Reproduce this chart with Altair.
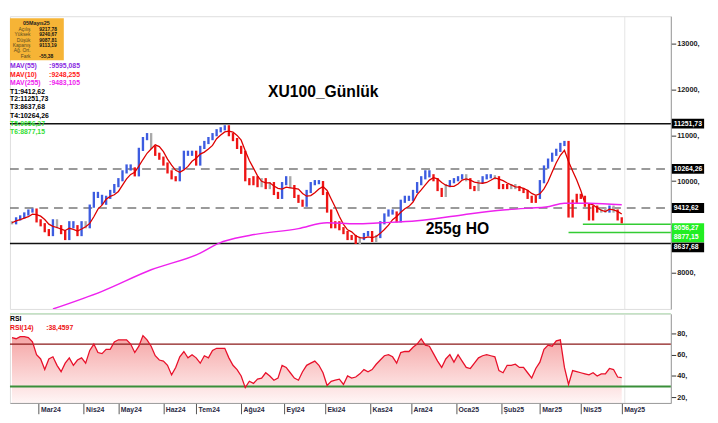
import altair as alt
import pandas as pd

# ---------------- data ----------------
# closes sampled every 2 trading days (XU100 daily)
closes = [9090, 9175, 9218, 9282, 9346, 9367, 9132, 9047, 8918, 8833,
          9132, 9004, 8876, 8747, 9090, 9004, 8833, 9090, 9004, 9453,
          9730, 9666, 9517, 9645, 9773, 9901, 10030, 10201, 10329, 10265,
          10137, 10692, 10927, 11013, 10735, 10585, 10500, 10372, 10201, 10072,
          10030, 10286, 10628, 10585, 10628, 10372, 10735, 10842, 10927, 11013,
          11098, 11141, 11184, 11013, 10906, 10735, 10628, 10030, 9944, 10072,
          9901, 10030, 9859, 9944, 9730, 9645, 9944, 10072, 9880, 9666,
          9559, 9474, 9773, 9944, 9987, 9966, 9730, 9346, 9004, 9090,
          8961, 8876, 8747, 8790, 8662, 8747, 8833, 8876, 8705, 8790,
          9090, 9260, 9346, 9303, 9132, 9559, 9645, 9602, 9773, 9944,
          10072, 10201, 10115, 10030, 9816, 9688, 9901, 9987, 10030, 10072,
          10115, 10030, 9859, 9816, 9987, 10072, 10115, 10094, 10072, 9859,
          9901, 9859, 9901, 9859, 9816, 9773, 9645, 9559, 9645, 9987,
          10307, 10457, 10585, 10671, 10799, 10842, 9239, 9559, 9688, 9645,
          9474, 9175, 9431, 9346, 9388, 9346, 9431, 9346, 9175, 9113]

rsi14 = [76, 75, 77, 77, 76, 72, 60, 56, 46, 56,
         58, 50, 44, 52, 57, 50, 55, 57, 52, 64,
         70, 62, 61, 65, 65, 72, 74, 74, 74, 70,
         62, 68, 78, 74, 68, 59, 55, 54, 50, 41,
         48, 58, 63, 57, 60, 57, 52, 59, 57, 64,
         66, 66, 66, 57, 50, 46, 40, 29, 35, 33,
         37, 38, 43, 40, 36, 38, 50, 48, 43, 38,
         36, 44, 50, 52, 54, 50, 43, 31, 35, 36,
         37, 32, 40, 38, 39, 42, 46, 44, 46, 51,
         55, 59, 60, 58, 52, 62, 63, 63, 67, 70,
         75, 69, 68, 61, 54, 48, 56, 60, 53, 60,
         54, 48, 47, 52, 57, 59, 60, 59, 58, 45,
         43, 50, 50, 51, 48, 48, 43, 38, 47, 53,
         65, 69, 68, 73, 74, 48, 32, 45, 44, 43,
         42, 41, 43, 40, 42, 42, 47, 46, 39, 38.46]

days = list(range(0, 2 * len(closes), 2))

ma255_days = [20, 44, 68, 92, 101, 116, 140, 154, 168, 180, 198, 220, 240, 253, 261, 270, 282, 298]
ma255_vals = [7209, 7594, 8064, 8427, 8641, 8812, 8962, 9090, 9068, 9090, 9132, 9261, 9368, 9410, 9432, 9517, 9517, 9483]

level_names = ["T1", "T2", "T3", "T4", "T5", "T6"]
level_values = [9412.62, 11251.73, 8637.68, 10264.26, 9056.27, 8877.15]
level_text = ["9412,62", "11251,73", "8637,68", "10264,26", "9056,27", "8877,15"]
level_from_day = [-1, -1, -1, -1, 279, 272]

month_days = [13, 35, 52, 74, 90, 112, 133, 153, 175, 195, 217, 239, 258, 278, 298]
month_labels = ["Mar24", "Nis24", "May24", "Haz24", "Tem24", "Ağu24", "Eyl24", "Eki24",
                "Kas24", "Ara24", "Oca25", "Şub25", "Mar25", "Nis25", "May25"]

price_ticks = [8000, 9000, 10000, 11000, 12000, 13000]
rsi_ticks = [20, 40, 60, 80]
rsi_levels = [70, 30]

info_header = "05Mayıs25"
info_labels = ["Açılış", "Yüksek", "Düşük", "Kapanış", "Ağ. Ort.", "Fark"]
info_values = ["9217,78", "9240,67", "9087,81", "9113,19", "", "-55,38"]

mav_names = ["MAV(55)", "MAV(10)", "MAV(255)"]
mav_values = [":9595,085", ":9248,255", ":9483,105"]

title_text = "XU100_Günlük"
note_text = "255g HO"
rsi_title = "RSI"
rsi_name = "RSI(14)"
rsi_last = ":38,4597"

# ---------------- layout / style ----------------
FONT = "Liberation Sans"
W, HP, HR = 675, 299, 91
RSI_MIN, RSI_MAX = 14.6, 98.4
xs = alt.Scale(domain=[-1, 322], nice=False, zero=False)
ys_price = alt.Scale(domain=[7209, 13598], nice=False, zero=False)
ys_rsi = alt.Scale(domain=[RSI_MIN, RSI_MAX], nice=False, zero=False)
label_dy = [0, 0, 4, 0, 4, 5]          # pixel nudges of the right-hand value boxes
box_colors = ["#000000", "#000000", "#000000", "#000000", "#22ee22", "#22ee22"]

price_df = pd.DataFrame({"day": days, "close": closes})
rsi_df = pd.DataFrame({"day": days, "rsi": rsi14})
ma255_df = pd.DataFrame({"day": ma255_days, "ma": ma255_vals})
levels_df = pd.DataFrame({"name": level_names, "value": level_values,
                          "label": level_text, "from": level_from_day})
rsi_lv_df = pd.DataFrame({"value": rsi_levels})

# the 9000 tick label sits hidden under the green value boxes in the original
price_axis = alt.Axis(orient="right", values=price_ticks,
                      labelExpr="datum.value == 9000 ? '' : datum.value + ','",
                      grid=False, domainColor="#9a9a9a", tickColor="#333", tickSize=5,
                      labelPadding=1, labelFontSize=7.5, labelFontWeight="bold",
                      labelColor="#222", labelFont=FONT)
rsi_axis = alt.Axis(orient="right", values=rsi_ticks, labelExpr="datum.value + ','",
                    grid=False, domainColor="#9a9a9a", tickColor="#333", tickSize=5,
                    labelPadding=1, labelFontSize=7.5, labelFontWeight="bold",
                    labelColor="#222", labelFont=FONT)
month_expr = " : ".join(f"datum.value == {d} ? '{l}'" for d, l in zip(month_days, month_labels)) + " : ''"
x_axis = alt.Axis(values=month_days, labelExpr=month_expr, orient="bottom", tickSize=11,
                  labelPadding=-8, labelAlign="left", labelBaseline="top", labelOffset=2,
                  labelFontSize=7, labelFontWeight="bold", labelColor="#2a2a44", labelFont=FONT,
                  domainColor="#9a9a9a", tickColor="#555", grid=False, zindex=2,
                  labelFlush=False, labelOverlap=False)


def txt(text, x, y, size=7, color="#000", weight="bold", align="left"):
    return alt.Chart(pd.DataFrame({"t": [text]})).mark_text(
        align=align, baseline="middle", fontSize=size, fontWeight=weight,
        color=color, font=FONT).encode(x=alt.value(x), y=alt.value(y), text="t:N")


def py(field):
    return alt.Y(field, scale=ys_price, axis=price_axis, title="")


# ---------------- price panel ----------------
base = alt.Chart(price_df).transform_window(
    prev="lag(close)", sort=[alt.SortField("day")]
).transform_window(
    ma="mean(close)", frame=[-4, 0], sort=[alt.SortField("day")]
).transform_calculate(
    p0="isValid(datum.prev) ? datum.prev : datum.close",
).transform_calculate(
    lo="min(datum.p0, datum.close) - 35",
    hi="max(datum.p0, datum.close) + 35",
    trend="abs(datum.close - datum.ma) < 40 ? 'flat' : (datum.close > datum.ma ? 'up' : 'down')",
)

bars = base.mark_rule(strokeWidth=2.4).encode(
    x=alt.X("day:Q", scale=xs, axis=None),
    y=py("lo:Q"), y2="hi:Q",
    color=alt.Color("trend:N", scale=alt.Scale(domain=["up", "flat", "down"],
                                               range=["#3d5ce0", "#a9a9a9", "#ee1414"]), legend=None),
)
ma10 = base.mark_line(color="#dd0000", strokeWidth=1.3).encode(
    x=alt.X("day:Q", scale=xs, axis=None), y=py("ma:Q"))

ma255 = alt.Chart(ma255_df).mark_line(color="#ee22ee", strokeWidth=1.5, clip=True,
                                      interpolate="monotone").encode(
    x=alt.X("day:Q", scale=xs, axis=None), y=py("ma:Q"))


def level_layer(names, **mk):
    return alt.Chart(levels_df).transform_filter(
        alt.FieldOneOfPredicate(field="name", oneOf=names)
    ).mark_rule(**mk).encode(x=alt.X("from:Q", scale=xs, axis=None), x2=alt.value(W), y=py("value:Q"))


lv_black = level_layer(["T2", "T3"], color="#111111", strokeWidth=1.5)
lv_dash = level_layer(["T1", "T4"], color="#7a7a7a", strokeWidth=1.5, strokeDash=[9, 6])
lv_green = level_layer(["T5", "T6"], color="#33cc33", strokeWidth=1.5)

box_layers = []
text_layers = []
for n, dy, bc in zip(level_names, label_dy, box_colors):
    sub = alt.Chart(levels_df).transform_filter(alt.FieldEqualPredicate(field="name", equal=n))
    box_layers.append(sub.mark_rule(color=bc, strokeWidth=10, strokeCap="butt", yOffset=dy).encode(
        x=alt.value(W + 1), x2=alt.value(W + 34), y=py("value:Q")))
    text_layers.append(sub.mark_text(
        align="left", baseline="middle", fontSize=7, fontWeight="bold", color="#ffffff",
        font=FONT, dy=dy).encode(x=alt.value(W + 3), y=py("value:Q"), text="label:N"))

last_line = alt.Chart(pd.DataFrame({"day": [days[-1] + 1.5]})).mark_rule(
    color="#e4e4e4", strokeWidth=1).encode(x=alt.X("day:Q", scale=xs, axis=None))

# info box + legend texts
info_box = alt.Chart(pd.DataFrame({"t": [info_header]})).mark_rect(color="#f6b436").encode(
    x=alt.value(0), x2=alt.value(55), y=alt.value(2), y2=alt.value(45))
info_rows_y = [13, 18.5, 24, 29.5, 35, 40.5]
info_layers = [txt(info_header, 27, 7, size=5.5, color="#222", align="center")]
for lab, val, yy in zip(info_labels, info_values, info_rows_y):
    info_layers.append(txt(lab, 21, yy, size=5, color="#5a4a20", weight="normal", align="right"))
    if val:
        info_layers.append(txt(val, 30, yy, size=5, color="#111"))

mav_colors = ["#8a2be2", "#ff1a1a", "#ee22ee"]
legend_layers = []
for n, v, c, yy in zip(mav_names, mav_values, mav_colors, [51, 60, 68]):
    legend_layers.append(txt(n, 0, yy, color=c))
    legend_layers.append(txt(v, 40, yy, color=c))
t_colors = ["#000", "#000", "#000", "#000", "#33dd33", "#33dd33"]
for n, t, c, yy in zip(level_names, level_text, t_colors, [77, 85, 93, 102, 110, 118]):
    legend_layers.append(txt(f"{n}:{t}", 0, yy, color=c))

title_layer = txt(title_text, 320, 77, size=16, color="#000", align="center")
note_layer = txt(note_text, 457, 217, size=16, color="#000", align="center")

price = alt.layer(
    last_line, lv_dash, lv_black, lv_green, bars, ma10, ma255,
    *box_layers, *text_layers,
    info_box, *info_layers, *legend_layers, title_layer, note_layer,
).properties(width=W, height=HP)

# ---------------- RSI panel ----------------
def ry(field):
    return alt.Y(field, scale=ys_rsi, axis=rsi_axis, title="")


def rx(field):
    return alt.X(field, scale=xs, axis=x_axis, title="")


grad = alt.Gradient(gradient="linear",
                    stops=[alt.GradientStop(color="#f39494", offset=0),
                           alt.GradientStop(color="#fff4f4", offset=1)],
                    x1=1, x2=1, y1=0, y2=1)
rsi_area = alt.Chart(rsi_df).mark_area(color=grad, opacity=0.85, clip=True).encode(
    x=rx("day:Q"), y=ry("rsi:Q"), y2=alt.datum(RSI_MIN))
rsi_line = alt.Chart(rsi_df).mark_line(color="#e8102a", strokeWidth=1.3).encode(
    x=rx("day:Q"), y=ry("rsi:Q"))
lv70 = alt.Chart(rsi_lv_df).transform_filter("datum.value > 50").mark_rule(
    color="#8b1a1a", strokeWidth=1.3).encode(y=ry("value:Q"))
lv30 = alt.Chart(rsi_lv_df).transform_filter("datum.value < 50").mark_rule(
    color="#3a8f3a", strokeWidth=2).encode(y=ry("value:Q"))
sep = alt.Chart(pd.DataFrame({"t": [""]})).mark_rule(color="#c4e2c4", strokeWidth=1.5).encode(
    x=alt.value(0), x2=alt.value(W), y=alt.value(0))
last_line_r = alt.Chart(pd.DataFrame({"day": [days[-1] + 1.5]})).mark_rule(
    color="#e4e4e4", strokeWidth=1).encode(x=rx("day:Q"))

rsi = alt.layer(
    rsi_area, last_line_r, lv70, lv30, rsi_line, sep,
    txt(rsi_title, 0, 5, color="#000"),
    txt(rsi_name, 0, 14, color="#ee1111"),
    txt(rsi_last, 37, 14, color="#ee1111"),
).properties(width=W, height=HR)

chart = alt.vconcat(price, rsi, spacing=2).properties(
    padding={"left": 0, "top": 3, "right": 0, "bottom": 0}
).configure_view(stroke=None).configure(background="#ffffff")

chart.save("out.html", embed_options={"renderer": "svg", "actions": False})
